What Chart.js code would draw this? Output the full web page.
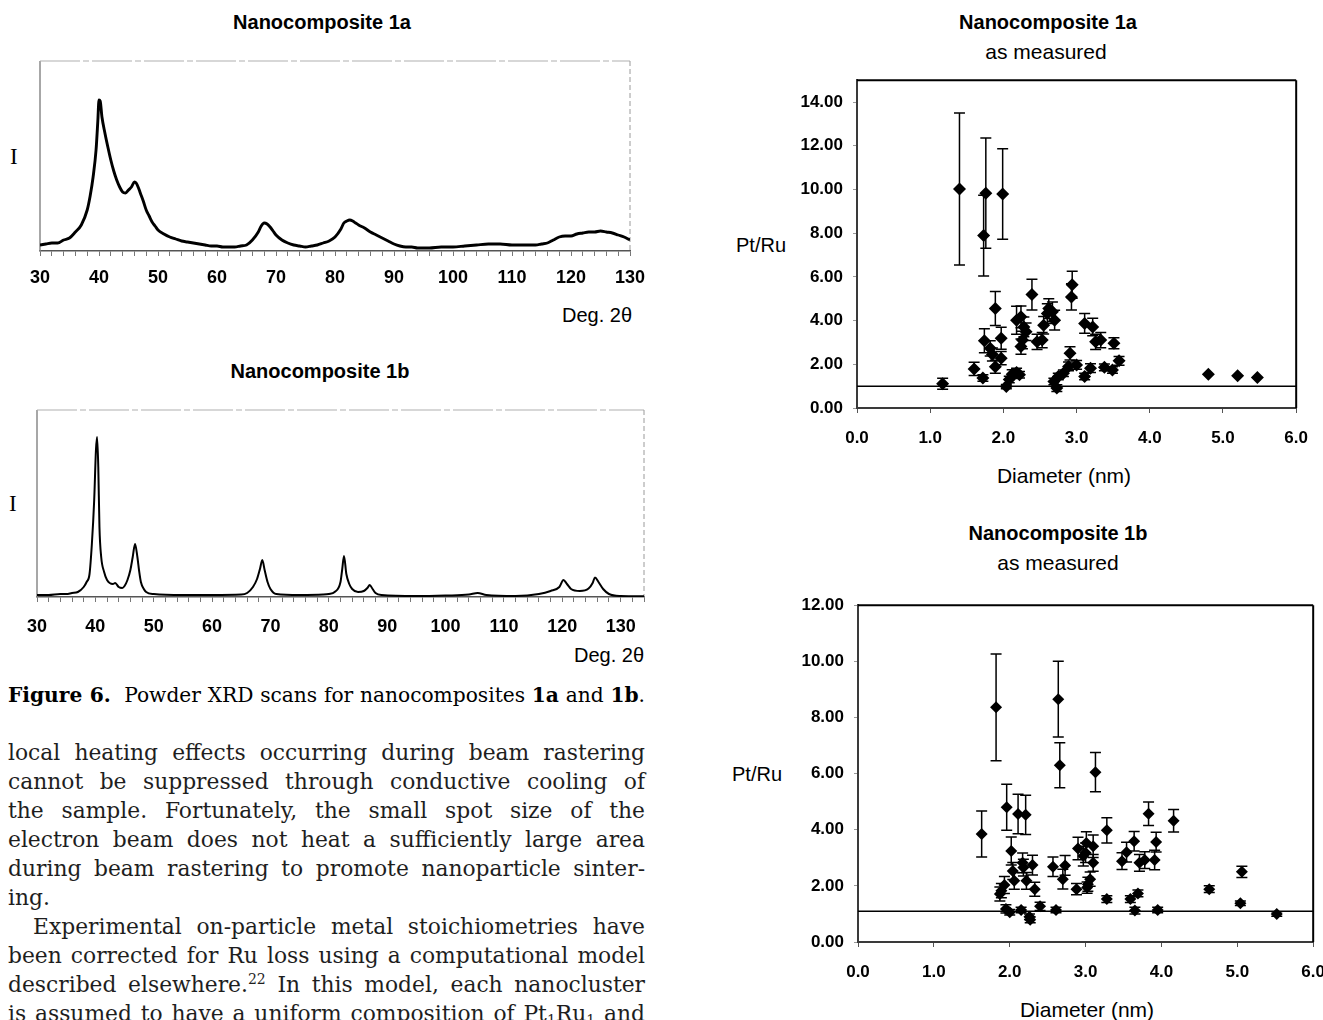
<!DOCTYPE html>
<html>
<head>
<meta charset="utf-8">
<script src="https://cdn.jsdelivr.net/npm/chart.js@4.4.1/dist/chart.umd.min.js"></script>
<style>
  html, body { margin:0; padding:0; background:#fff; }
  body { position:relative; width:1323px; height:1020px; overflow:hidden; font-family:'Liberation Sans', Arial, sans-serif; color:#000; }
  canvas { position:absolute; }
  .t { position:absolute; white-space:nowrap; line-height:22px; }
  .b { font-weight:bold; }
  .ctr { text-align:center; }
  .body { position:absolute; left:8px; width:637px; font-family:'DejaVu Serif', serif; font-size:21.8px; line-height:29px; color:#1e1e1e; }
  .body div { text-align:justify; text-align-last:justify; white-space:nowrap; }
  .body div.end { text-align-last:left; }
  .body sup { font-size:14px; line-height:0; vertical-align:8px; }
  .body sub { font-size:14px; line-height:0; vertical-align:-4px; }
</style>
</head>
<body>

<!-- powder XRD panels -->
<div class="t b ctr" style="left:222px;width:200px;top:11px;font-size:20px;">Nanocomposite 1a</div>
<div class="t" style="left:10px;top:146px;font-family:'Liberation Serif',serif;font-size:23px;">I</div>
<div class="t" style="left:562px;top:304px;font-size:20px;">Deg. 2θ</div>
<canvas id="xrdA" width="660" height="270" style="left:0;top:40px;"></canvas>

<div class="t b ctr" style="left:220px;width:200px;top:360px;font-size:20px;">Nanocomposite 1b</div>
<div class="t" style="left:9px;top:493px;font-family:'Liberation Serif',serif;font-size:23px;">I</div>
<div class="t" style="left:574px;top:644px;font-size:20px;">Deg. 2θ</div>
<canvas id="xrdB" width="660" height="270" style="left:0;top:390px;"></canvas>

<!-- Pt/Ru ratio panels -->
<div class="t b ctr" style="left:948px;width:200px;top:11px;font-size:20px;">Nanocomposite 1a</div>
<div class="t ctr" style="left:946px;width:200px;top:41px;font-size:21px;">as measured</div>
<div class="t" style="left:736px;top:234px;font-size:20px;">Pt/Ru</div>
<div class="t ctr" style="left:964px;width:200px;top:465px;font-size:21px;">Diameter (nm)</div>
<canvas id="ratioA" width="603" height="400" style="left:720px;top:60px;"></canvas>

<div class="t b ctr" style="left:958px;width:200px;top:522px;font-size:20px;">Nanocomposite 1b</div>
<div class="t ctr" style="left:958px;width:200px;top:552px;font-size:21px;">as measured</div>
<div class="t" style="left:732px;top:763px;font-size:20px;">Pt/Ru</div>
<div class="t ctr" style="left:987px;width:200px;top:999px;font-size:21px;">Diameter (nm)</div>
<canvas id="ratioB" width="620" height="435" style="left:720px;top:585px;"></canvas>

<!-- caption and running text -->
<div class="body" style="top:681px;font-size:20.2px;">
  <div style="color:#000;"><b>Figure 6.</b>&nbsp; Powder XRD scans for nanocomposites <b>1a</b> and <b>1b</b>.</div>
</div>
<div class="body" style="top:738px;">
  <div>local heating effects occurring during beam rastering</div>
  <div>cannot be suppressed through conductive cooling of</div>
  <div>the sample. Fortunately, the small spot size of the</div>
  <div>electron beam does not heat a sufficiently large area</div>
  <div>during beam rastering to promote nanoparticle sinter-</div>
  <div class="end">ing.</div>
  <div style="padding-left:25px;">Experimental on-particle metal stoichiometries have</div>
  <div>been corrected for Ru loss using a computational model</div>
  <div>described elsewhere.<sup>22</sup> In this model, each nanocluster</div>
  <div>is assumed to have a uniform composition of Pt<sub>1</sub>Ru<sub>1</sub> and</div>
</div>

<script>
// ---- XRD scans (2θ in degrees, intensity in arbitrary counts) ----
const twoTheta1a = [30,31,32,33,34,35,36,37,38,38.5,39,39.5,39.8,40,40.2,40.5,41,41.5,42,42.5,43,43.5,44,44.5,45,45.5,46,46.3,46.7,47,47.5,48,48.5,49,49.5,50,51,52,53,54,55,56,57,58,59,60,61,62,63,64,65,66,67,67.5,68,68.5,69,69.5,70,71,72,73,74,75,76,77,78,79,80,81,81.5,82,82.5,83,83.5,84,85,86,87,88,89,90,91,92,93,94,95,96,98,100,102,104,106,108,110,112,114,115,116,117,118,119,120,121,122,123,124,125,126,127,128,129,130];
const counts1a   = [6,7,8,8,11,13,19,26,41,55,74,101,130,151,150,134,118,104,91,80,71,64,59,58,61,64,69,68,63,58,50,41,35,29,25,21,17,14,12,10,9,8,7,6,5,5,4,4,4,5,6,11,19,25,28,27,24,20,16,11,8,6,5,4,5,6,8,10,14,22,28,30,31,30,28,26,23,19,16,13,10,7,5,4,4,3,3,3,4,4,5,6,7,7,6,6,6,7,8,11,14,15,15,17,18,19,19,20,19,18,16,14,11];

const twoTheta1b = [30,32,34,35,36,37,38,38.5,39,39.4,39.8,40.1,40.3,40.5,40.7,41,41.5,42,43,43.4,44,44.6,45,45.5,46,46.4,46.8,47.2,47.5,47.8,48.3,48.7,50,55,60,65,66,67,67.7,68.2,68.6,69,69.5,70,71,75,79,80,81,82,82.3,82.6,83,83.5,84,85,86,86.6,87,87.5,88,89,95,100,104,105.5,107,112,116,118,119.5,120.2,120.8,121.5,123,124.5,125.2,125.6,126.2,127,128,130,134];
const counts1b   = [2,2,3,3,4,5,10,15,23,53,97,147,160,130,70,40,25,17,13,14,10,9,11,17,27,40,53,40,26,15,8,5,3,2,2,2.4,4,10,18,28,37,27,15,8,3,2,2.4,3,5,15,28,41,23,13,8,5,6,9,12,8,4,2,1,1.5,2.4,4,2,1,3,6,10,17,13,8,6,8.4,14,19.5,15,8,3,1,0.7];

const degLabels = [30,40,50,60,70,80,90,100,110,120,130];

// ---- Pt/Ru atomic ratio vs. particle diameter (nm), with error half-widths ----
const diam1a  = [1.17,1.40,1.60,1.72,1.73,1.76,1.74,1.82,1.85,1.89,1.89,1.97,1.97,1.99,2.04,2.08,2.12,2.18,2.22,2.18,2.24,2.28,2.31,2.26,2.24,2.39,2.46,2.53,2.55,2.60,2.62,2.67,2.70,2.69,2.73,2.75,2.82,2.91,2.93,2.94,2.89,3.00,3.11,3.22,3.26,3.33,3.11,3.19,3.38,3.49,3.51,3.58,4.80,5.20,5.47];
const ratio1a = [1.11,10.02,1.79,1.37,7.89,9.83,3.08,2.73,2.45,4.55,1.89,3.19,2.28,9.79,0.98,1.30,1.55,1.62,1.52,4.02,4.17,3.71,3.49,3.11,2.81,5.19,3.03,3.11,3.79,4.32,4.55,4.40,4.02,1.21,0.91,1.44,1.59,2.50,5.08,5.64,1.90,1.97,3.87,3.71,3.03,3.11,1.44,1.82,1.86,1.74,2.96,2.16,1.54,1.48,1.39];
const err1a   = [0.25,3.48,0.30,0.15,1.85,2.52,0.55,0.35,0.30,0.78,0.30,0.50,0.30,2.07,0.10,0.15,0.20,0.20,0.15,0.64,0.50,0.45,0.40,0.40,0.35,0.70,0.35,0.35,0.40,0.45,0.45,0.45,0.45,0.15,0.15,0.15,0.15,0.30,0.60,0.62,0.20,0.20,0.45,0.40,0.35,0.35,0.15,0.20,0.15,0.15,0.25,0.20,0,0,0];

const diam1b  = [1.63,1.82,1.96,2.11,2.21,2.02,2.04,2.06,1.93,1.89,1.87,1.95,2.00,2.17,2.18,2.22,2.30,2.33,2.15,2.26,2.27,2.40,2.61,2.57,2.70,2.73,2.88,2.90,2.97,3.01,3.10,3.00,3.10,3.03,3.06,3.02,3.28,3.28,3.48,3.54,3.64,3.71,3.78,3.59,3.69,3.65,3.83,3.93,3.91,3.95,4.16,4.63,5.06,5.04,5.52,2.64,2.66,3.13];
const ratio1b = [3.85,8.36,4.80,4.56,4.53,3.24,2.53,2.18,2.03,1.83,1.71,1.18,1.06,2.82,2.65,2.18,2.74,1.88,1.14,0.90,0.79,1.27,1.14,2.68,2.24,2.73,1.88,3.33,3.06,3.53,3.41,3.18,2.82,2.06,2.24,1.94,3.98,1.53,2.88,3.20,3.59,2.82,2.92,1.53,1.73,1.12,4.57,3.56,2.92,1.14,4.32,1.88,2.50,1.38,1.00,8.65,6.30,6.05];
const err1b   = [0.82,1.90,0.82,0.70,0.70,0.50,0.30,0.30,0.30,0.25,0.25,0.15,0.10,0.35,0.30,0.30,0.35,0.25,0.10,0.10,0.10,0.15,0.10,0.35,0.35,0.35,0.20,0.40,0.35,0.40,0.40,0.35,0.30,0.25,0.25,0.20,0.45,0.12,0.30,0.35,0.35,0.30,0.30,0.12,0.12,0.12,0.42,0.35,0.35,0.10,0.40,0.12,0.20,0.08,0.08,1.35,0.80,0.70];

const bulkRatio1a = 1.0;   // Pt1Ru1 reference line
const bulkRatio1b = 1.1;
const ratioTicks1a = [0,2,4,6,8,10,12,14];
const ratioTicks1b = [0,2,4,6,8,10,12];
const diamTicks = [0,1,2,3,4,5,6];

const SANS = "'Liberation Sans', Arial, sans-serif";

// error bars drawn under the markers of dataset 0
const errorBars = {
  id: 'errorBars',
  beforeDatasetsDraw(chart) {
    const ds = chart.data.datasets[0];
    if (!ds.err) return;
    const xs = chart.scales.x, ys = chart.scales.y, ctx = chart.ctx;
    ctx.save();
    ctx.strokeStyle = '#000';
    ctx.lineWidth = 1.5;
    ds.data.forEach((p, i) => {
      const e = ds.err[i];
      if (!e) return;
      const px = xs.getPixelForValue(p.x);
      const yTop = ys.getPixelForValue(p.y + e);
      const yBot = ys.getPixelForValue(p.y - e);
      ctx.beginPath();
      ctx.moveTo(px, yTop); ctx.lineTo(px, yBot);
      ctx.moveTo(px - 5.5, yTop); ctx.lineTo(px + 5.5, yTop);
      ctx.moveTo(px - 5.5, yBot); ctx.lineTo(px + 5.5, yBot);
      ctx.stroke();
    });
    ctx.restore();
  }
};

// plot frame: left / top / right edges of the chart area
const frame = {
  id: 'frame',
  beforeDatasetsDraw(chart, args, o) {
    const {left, right, top, bottom} = chart.chartArea;
    const ctx = chart.ctx;
    const side = (s, x1, y1, x2, y2) => {
      if (!s) return;
      ctx.save();
      ctx.strokeStyle = s.color; ctx.lineWidth = s.width; ctx.setLineDash(s.dash || []);
      ctx.beginPath(); ctx.moveTo(x1, y1); ctx.lineTo(x2, y2); ctx.stroke();
      ctx.restore();
    };
    side(o.left, left, top, left, bottom);
    side(o.top, left, top, right, top);
    side(o.right, right, top, right, bottom);
  }
};

function xrdChart(id, theta, counts, xMax, yMax, pad, axisH, labelPad, lw) {
  return new Chart(document.getElementById(id), {
    type: 'line',
    data: { datasets: [{
      data: theta.map((t, i) => ({x: t, y: counts[i]})),
      borderColor: '#000', borderWidth: lw, pointRadius: 0,
      cubicInterpolationMode: 'monotone', fill: false
    }]},
    options: {
      responsive: false, animation: false, events: [],
      layout: { padding: pad },
      plugins: { legend: {display: false}, tooltip: {enabled: false},
        frame: { left: {color:'#8a8a8a', width:1.5}, top: {color:'#b0b0b0', width:1.2, dash:[40,3,6,3]}, right: {color:'#9a9a9a', width:1, dash:[5,3]} } },
      scales: {
        x: {
          type: 'linear', min: 30, max: xMax,
          afterFit: s => { s.height = axisH; },
          afterBuildTicks: s => { const t = []; for (let v = 30; v <= xMax; v += 2) t.push({value: v}); s.ticks = t; },
          ticks: { autoSkip: false, maxRotation: 0, padding: labelPad, color: '#000',
            font: { family: SANS, size: 18, weight: 'bold' },
            callback: v => degLabels.includes(v) ? String(v) : '' },
          grid: { drawOnChartArea: false, drawTicks: true, tickLength: 5, color: '#777', lineWidth: 1 },
          border: { color: '#555', width: 1.5 }
        },
        y: { display: false, min: 0, max: yMax }
      }
    },
    plugins: [frame]
  });
}

xrdChart('xrdA', twoTheta1a, counts1a, 130, 190, {left:40, right:30, top:21, bottom:0}, 59, 11, 2.9);
xrdChart('xrdB', twoTheta1b, counts1b, 134, 187, {left:37, right:16, top:20, bottom:0}, 63, 14, 2);

function ratioChart(id, diam, ratio, err, bulk, yMax, yTicks, yWidth, pad, axisH, r) {
  return new Chart(document.getElementById(id), {
    type: 'scatter',
    data: { datasets: [
      { data: diam.map((d, i) => ({x: d, y: ratio[i]})), err: err,
        pointStyle: 'rectRot', pointRadius: r, backgroundColor: '#000', borderColor: '#000', borderWidth: 0 },
      { type: 'line', data: [{x: 0, y: bulk}, {x: 6, y: bulk}],
        borderColor: '#000', borderWidth: 1.5, pointRadius: 0 }
    ]},
    options: {
      responsive: false, animation: false, events: [],
      layout: { padding: pad },
      plugins: { legend: {display: false}, tooltip: {enabled: false},
        frame: { top: {color:'#000', width:2}, right: {color:'#000', width:2} } },
      scales: {
        x: {
          type: 'linear', min: 0, max: 6,
          afterFit: s => { s.height = axisH; },
          afterBuildTicks: s => { s.ticks = diamTicks.map(v => ({value: v})); },
          ticks: { autoSkip: false, maxRotation: 0, padding: 15, color: '#000',
            font: { family: SANS, size: 17, weight: 'bold' }, callback: v => v.toFixed(1) },
          grid: { drawOnChartArea: false, drawTicks: true, tickLength: 5, color: '#555' },
          border: { color: '#3a3a3a', width: 2 }
        },
        y: {
          min: 0, max: yMax,
          afterFit: s => { s.width = yWidth; },
          afterBuildTicks: s => { s.ticks = yTicks.map(v => ({value: v})); },
          ticks: { autoSkip: false, padding: 10, color: '#000',
            font: { family: SANS, size: 17, weight: 'bold' }, callback: v => v.toFixed(2) },
          grid: { drawOnChartArea: false, drawTicks: true, tickLength: 4, color: '#999' },
          border: { color: '#3a3a3a', width: 2 }
        }
      }
    },
    plugins: [errorBars, frame]
  });
}

ratioChart('ratioA', diam1a, ratio1a, err1a, bulkRatio1a, 15, ratioTicks1a, 137, {left:0, right:17, top:18, bottom:0}, 52, 6.5);
ratioChart('ratioB', diam1b, ratio1b, err1b, bulkRatio1b, 12, ratioTicks1b, 138, {left:0, right:26, top:17, bottom:0}, 78, 6);
</script>
</body>
</html>
